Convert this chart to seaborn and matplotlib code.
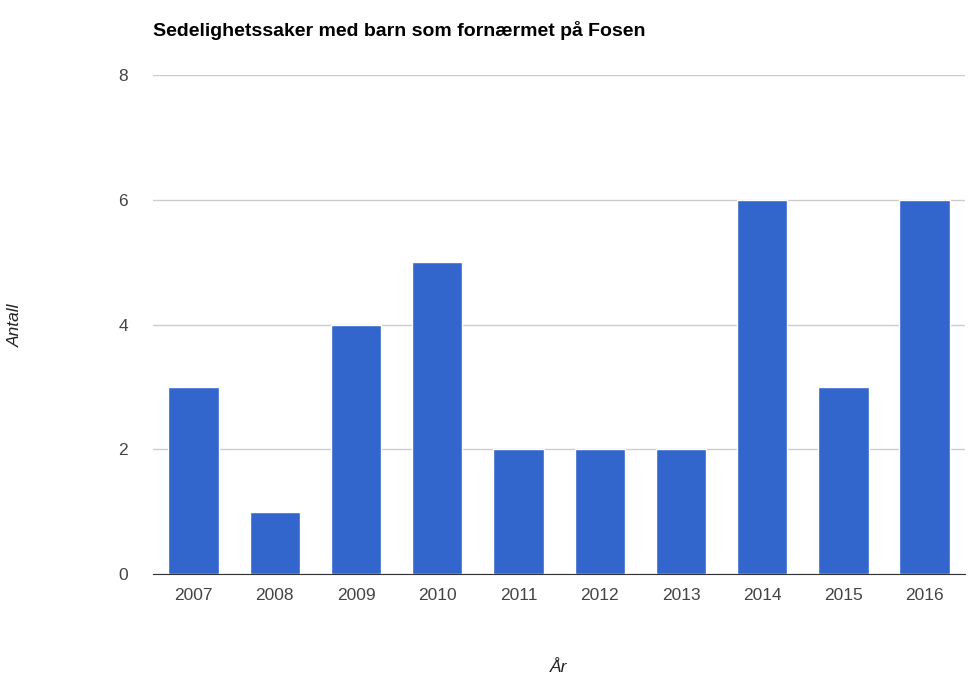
import matplotlib
matplotlib.use("Agg")
import matplotlib.pyplot as plt
import seaborn as sns
import pandas as pd

years = ["2007", "2008", "2009", "2010", "2011", "2012", "2013", "2014", "2015", "2016"]
counts = [3, 1, 4, 5, 2, 2, 2, 6, 3, 6]

sns.set_style("white")
plt.rcParams['font.family'] = ['Arial', 'Liberation Sans', 'DejaVu Sans']

df = pd.DataFrame({"year": years, "count": counts})

fig = plt.figure(figsize=(9.8, 6.96), dpi=100)
ax = fig.add_axes([0.156, 0.175, 0.829, 0.717])
sns.barplot(data=df, x="year", y="count", color="#3366cc", width=0.62, saturation=1, ax=ax, zorder=2)

ax.set_ylim(0, 8)
ax.set_yticks([0, 2, 4, 6, 8])
ax.grid(axis="y", color="#cccccc", linewidth=1, zorder=0)
ax.set_axisbelow(True)
for s in ["top", "right", "left"]:
    ax.spines[s].set_visible(False)
ax.spines["bottom"].set_color("#333333")
ax.tick_params(axis="both", length=0, labelsize=12.5, colors="#444444")
ax.tick_params(axis="x", pad=10)
ax.tick_params(axis="y", pad=18)
ax.set_xlabel("")
ax.set_ylabel("")

fig.text(153 / 980, 1 - 30 / 696, "Sedelighetssaker med barn som fornærmet på Fosen",
         fontsize=14, fontweight="bold", va="center", ha="left", color="#000000")
fig.text(15 / 980, 1 - 325 / 696, "Antall", rotation=90, style="italic",
         fontsize=12.5, va="center", ha="center", color="#222222")
fig.text(559 / 980, 1 - 668 / 696, "År", style="italic",
         fontsize=12.5, va="center", ha="center", color="#222222")

fig.savefig("out.png", dpi=100)
